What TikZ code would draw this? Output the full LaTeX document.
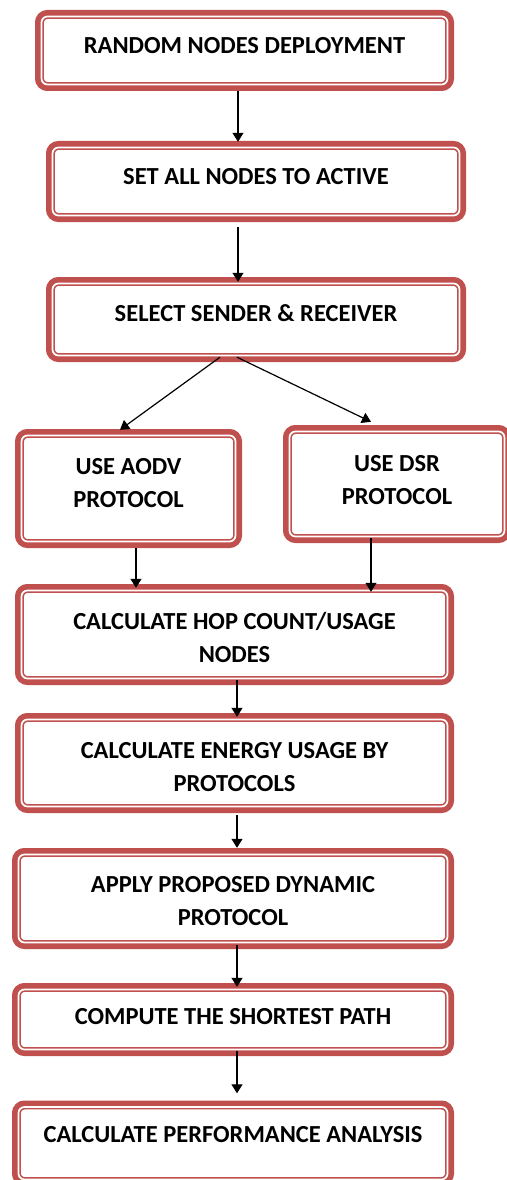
\documentclass[tikz,border=0pt]{standalone}
\usepackage{fontspec}
\setmainfont{Carlito}
\usetikzlibrary{arrows.meta}
\definecolor{boxred}{RGB}{192,80,77}
\tikzset{
  box/.style={rectangle, rounded corners=6pt, inner sep=0pt, fill=white,
    preaction={draw=boxred, line width=13pt},
    postaction={draw=boxred, line width=4.9pt},
    postaction={draw=white, line width=1.7pt}},
  lbl/.style={font=\fontsize{24.5}{33}\selectfont\bfseries, align=center, inner sep=0pt},
  arr/.style={draw=black, line width=1.2pt, -{Triangle[length=9pt,width=11pt]}},
}
\begin{document}
\begin{tikzpicture}[x=1pt, y=-1pt]
\useasboundingbox (0,0) rectangle (506,1180);

% boxes
\node[box, minimum width=406pt, minimum height=68pt] (b1) at (244.5,50.5) {};
\node[box, minimum width=407pt, minimum height=68pt] (b2) at (256,181.5) {};
\node[box, minimum width=407pt, minimum height=72pt] (b3) at (256,319.5) {};
\node[box, minimum width=214pt, minimum height=106pt] (aodv) at (128.5,488.5) {};
\node[box, minimum width=215pt, minimum height=105pt] (dsr) at (397,484) {};
\node[box, minimum width=426pt, minimum height=88pt] (hop) at (234.5,634.5) {};
\node[box, minimum width=426pt, minimum height=87pt] (energy) at (234.5,763) {};
\node[box, minimum width=429pt, minimum height=88pt] (apply) at (233,898.5) {};
\node[box, minimum width=429pt, minimum height=60pt] (shortest) at (233,1019.5) {};
\node[box, minimum width=429pt, minimum height=72.5pt] (perf) at (233,1143.25) {};

% texts
\node[lbl] (t1) at (244.5,46) {RANDOM NODES DEPLOYMENT};
\node[lbl] (t2) at (256,177) {SET ALL NODES TO ACTIVE};
\node[lbl] (t3) at (256,313) {SELECT SENDER \& RECEIVER};
\node[lbl] (t4) at (128.5,483.5) {USE AODV\\PROTOCOL};
\node[lbl] (t5) at (397,480) {USE DSR\\PROTOCOL};
\node[lbl] (t6) at (234.5,637.5) {CALCULATE HOP COUNT/USAGE\\NODES};
\node[lbl] (t7) at (234.5,767.5) {CALCULATE ENERGY USAGE BY\\PROTOCOLS};
\node[lbl] (t8) at (233,901.5) {APPLY PROPOSED DYNAMIC\\PROTOCOL};
\node[lbl] (t9) at (233,1017) {COMPUTE THE SHORTEST PATH};
\node[lbl] (t10) at (233,1135) {CALCULATE PERFORMANCE ANALYSIS};

% connectors
\draw[arr, shorten <=6.5pt, shorten >=5.5pt] (b1.south -| 238,0) -- (b2.north -| 238,0);
\draw[arr, shorten <=11.5pt, shorten >=1.5pt] (b2.south -| 238,0) -- (b3.north -| 238,0);
\draw[arr] ([xshift=-36pt,yshift=-1.5pt]b3.south) -- ([xshift=-8.5pt,yshift=5.5pt]aodv.north);
\draw[arr] ([xshift=-19pt,yshift=-1.5pt]b3.south) -- ([xshift=-26pt,yshift=9.5pt]dsr.north);
\draw[arr, shorten <=6.5pt, shorten >=2.5pt] (aodv.south -| 136,0) -- (hop.north -| 136,0);
\draw[arr, shorten <=1.5pt, shorten >=-1.5pt] (dsr.south -| 371,0) -- (hop.north -| 371,0);
\draw[arr, shorten <=1.5pt, shorten >=2.5pt] (hop.south -| 237,0) -- (energy.north -| 237,0);
\draw[arr, shorten <=8.5pt, shorten >=6.5pt] (energy.south -| 237,0) -- (apply.north -| 237,0);
\draw[arr, shorten <=2.5pt, shorten >=2.5pt] (apply.south -| 237,0) -- (shortest.north -| 237,0);
\draw[arr, shorten <=1.5pt, shorten >=13.5pt] (shortest.south -| 237,0) -- (perf.north -| 237,0);
\end{tikzpicture}
\end{document}
